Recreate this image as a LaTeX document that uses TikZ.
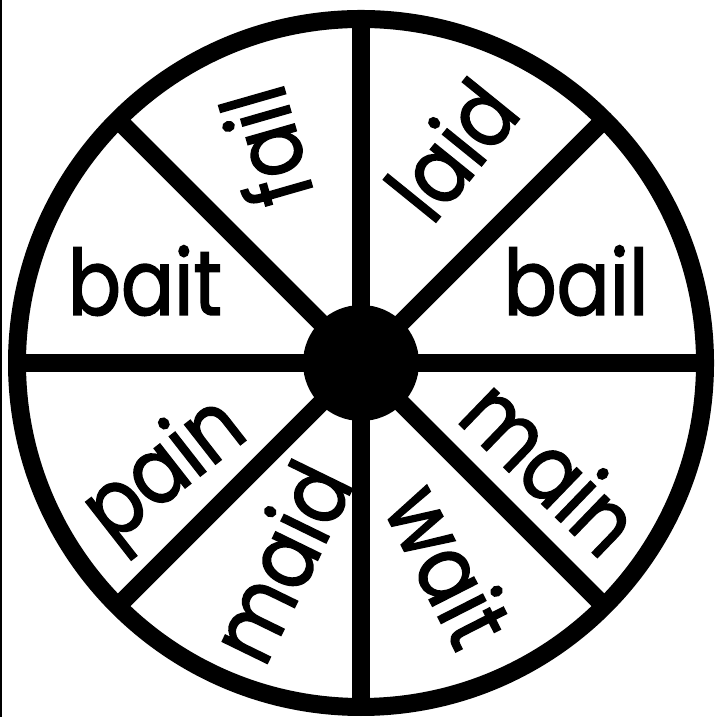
\documentclass[tikz,border=0pt]{standalone}
\usepackage{fontspec}
\setmainfont{Poppins}
\newfontfamily\wordfont{Poppins}[FakeStretch=0.86, FakeBold=1.6]
\usepackage{tikz}
\usetikzlibrary{positioning, calc}

\begin{document}
\begin{tikzpicture}[
    rim/.style={draw=black, line width=0.18cm},
    spoke/.style={draw=black, line width=0.18cm},
    hubdot/.style={circle, fill=black, minimum size=1.16cm, inner sep=0pt},
    word/.style={font=\wordfont\fontsize{26}{30}\selectfont, inner sep=0pt},
]
\useasboundingbox (0,0) rectangle (7.14,7.17);

% Left edge rule
\draw[line width=0.015cm] (0.01,0) -- (0.01,7.17);

% Wheel
\coordinate (c) at (3.61,3.54);
\draw[rim] (c) circle (3.44);

% Rim points
\coordinate (rE)  at ($(c)+(0:3.44)$);
\coordinate (rNE) at ($(c)+(45:3.44)$);
\coordinate (rN)  at ($(c)+(90:3.44)$);
\coordinate (rNW) at ($(c)+(135:3.44)$);
\coordinate (rW)  at ($(c)+(180:3.44)$);
\coordinate (rSW) at ($(c)+(225:3.44)$);
\coordinate (rS)  at ($(c)+(270:3.44)$);
\coordinate (rSE) at ($(c)+(315:3.44)$);

% Spokes
\draw[spoke] (c) -- (rE);
\draw[spoke] (c) -- (rNE);
\draw[spoke] (c) -- (rN);
\draw[spoke] (c) -- (rNW);
\draw[spoke] (c) -- (rW);
\draw[spoke] (c) -- (rSW);
\draw[spoke] (c) -- (rS);
\draw[spoke] (c) -- (rSE);

% Hub
\node[hubdot] (hub) at (c) {};

% Words
\node[word, anchor=base] (bait) at (1.45,4.02) {bait};
\node[word, anchor=base] (bail) at (5.76,4.02) {bail};
\node[word, rotate=106] (fail) at (2.65,5.70) {fail};
\node[word, rotate=51] (laid) at (4.51,5.68) {laid};
\node[word, rotate=-44] (main) at (5.52,2.51) {main};
\node[word, rotate=-63] (wait) at (4.50,1.52) {wait};
\node[word, rotate=64] (maid) at (2.79,1.56) {maid};
\node[word, rotate=38] (pain) at (1.67,2.44) {pain};

\end{tikzpicture}
\end{document}
